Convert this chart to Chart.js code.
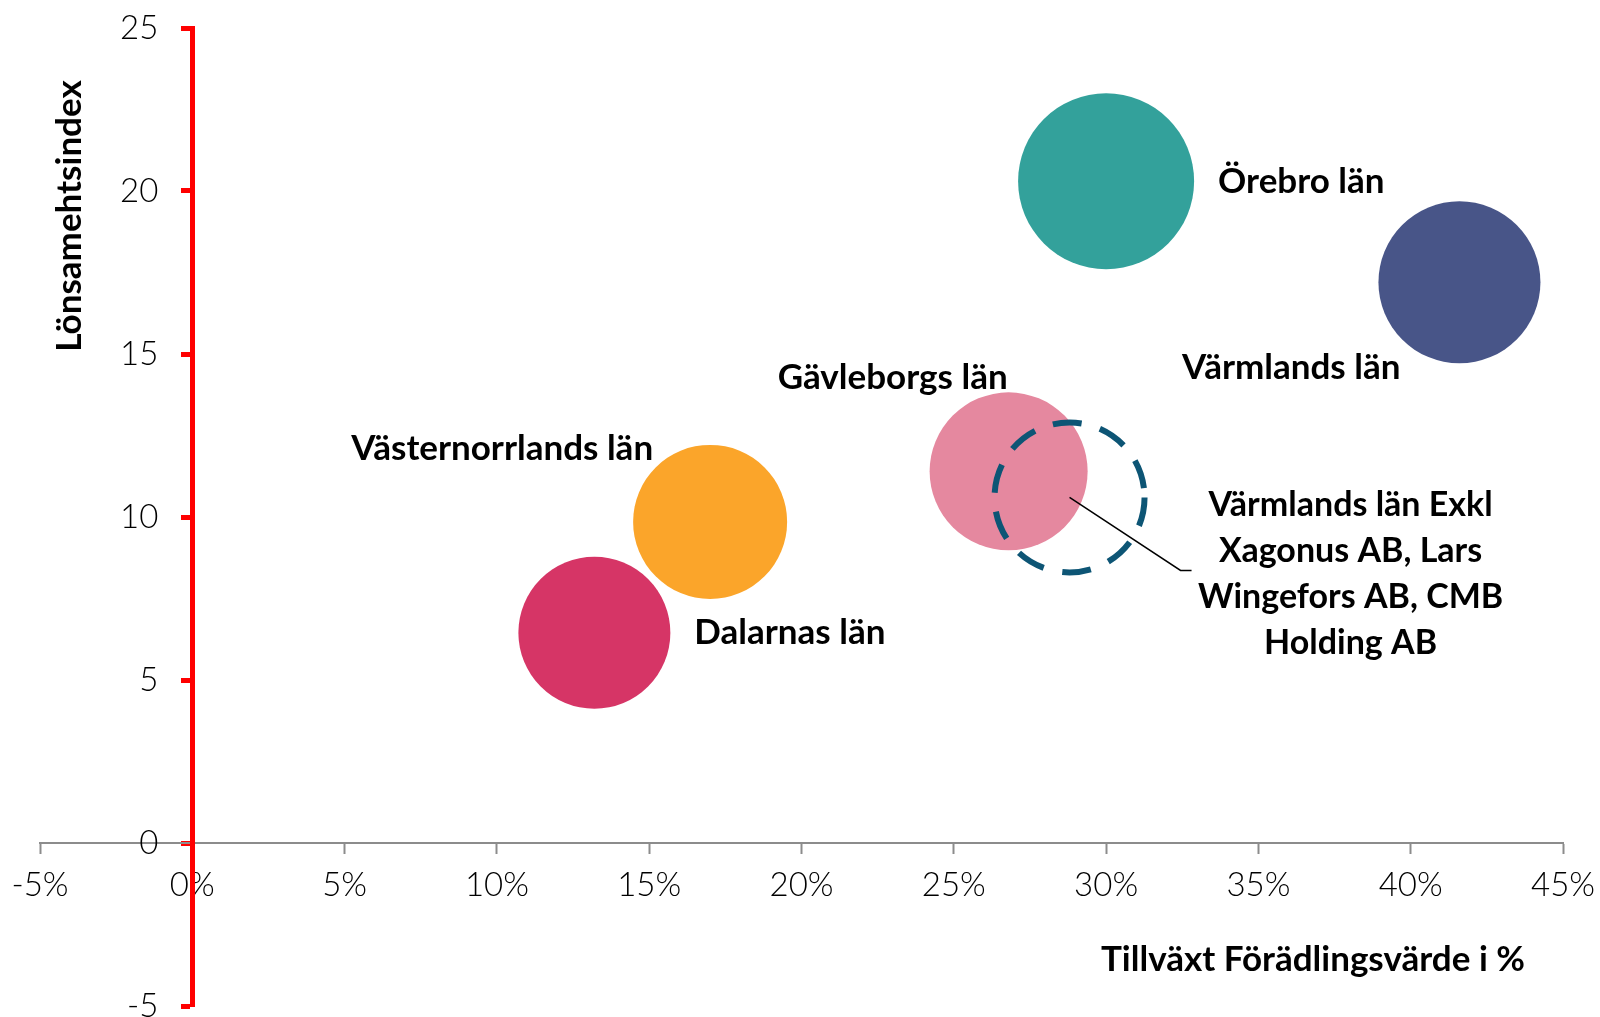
<!DOCTYPE html>
<html>
<head>
<meta charset="utf-8">
<script src="https://cdn.jsdelivr.net/npm/chart.js@4.4.1/dist/chart.umd.min.js"></script>
<style>
  html, body { margin: 0; padding: 0; background: #fff; }
  #wrap { width: 1600px; height: 1017px; position: relative; }
</style>
</head>
<body>
<div id="wrap"><canvas id="bubbleChart"></canvas></div>
<script>
// --- data ---
const regionNames = ['Örebro län', 'Värmlands län', 'Gävleborgs län', 'Västernorrlands län', 'Dalarnas län'];
const growthPct = [30.0, 41.6, 26.8, 17.0, 13.2];      // Tillväxt Förädlingsvärde i %
const profitIndex = [20.3, 17.2, 11.4, 9.85, 6.45];    // Lönsamehtsindex
const bubbleSize = [88, 81, 79, 77, 76];
const regionColors = ['#33a19b', '#485588', '#e5889f', '#fba52a', '#d63566'];

const exklLabel = ['Värmlands län Exkl', 'Xagonus AB, Lars', 'Wingefors AB, CMB', 'Holding AB'];
const exklGrowth = [28.8];
const exklProfit = [10.6];
const exklSize = [75];

const xTicks = [-5, 0, 5, 10, 15, 20, 25, 30, 35, 40, 45];
const yTicks = [-5, 0, 5, 10, 15, 20, 25];

const xTitle = 'Tillväxt Förädlingsvärde i %';
const yTitle = 'Lönsamehtsindex';

// label placement relative to each bubble (px)
const labelPlacement = [
    { dx: 112, dy: 0, align: 'left' },
    { dx: -59, dy: 85, align: 'right' },
    { dx: -1, dy: -94, align: 'right' },
    { dx: -57, dy: -73, align: 'right' },
    { dx: 100, dy: 0, align: 'left' }
];

const labelsPlugin = {
    id: 'bubbleLabels',
    beforeDraw(chart) {
        // y labels sit on the axis line when the axis is placed at x = 0, push them left
        const ys = chart.scales.y;
        ys.getLabelItems(chart.chartArea).forEach(item => {
            item.options.translation[0] -= 34;
        });
    },
    beforeDatasetDraw(chart, args) {
        // dashed outline for the "Exkl" bubble
        if (args.index === 0) {
            chart.ctx.save();
            chart.ctx.setLineDash([29, 19]);
        }
    },
    afterDatasetDraw(chart, args) {
        if (args.index === 0) chart.ctx.restore();
    },
    afterDraw(chart) {
        const { ctx, scales: { x, y } } = chart;
        ctx.save();
        ctx.fillStyle = '#000';
        ctx.textBaseline = 'middle';
        ctx.font = 'bold 35px Lato';

        regionNames.forEach((name, i) => {
            const p = labelPlacement[i];
            ctx.textAlign = p.align;
            ctx.fillText(name, x.getPixelForValue(growthPct[i]) + p.dx, y.getPixelForValue(profitIndex[i]) + p.dy);
        });

        // leader line + multi-line label
        const cx = x.getPixelForValue(exklGrowth[0]);
        const cy = y.getPixelForValue(exklProfit[0]);
        ctx.strokeStyle = '#000';
        ctx.lineWidth = 1.5;
        ctx.beginPath();
        ctx.moveTo(cx, cy);
        ctx.lineTo(cx + 111, cy + 73);
        ctx.lineTo(cx + 122, cy + 73);
        ctx.stroke();
        ctx.textAlign = 'center';
        ctx.font = 'bold 34px Lato';
        exklLabel.forEach((line, k) => ctx.fillText(line, cx + 281, cy + 8 + k * 46));

        // axis titles
        ctx.font = 'bold 35px Lato';
        ctx.fillText(xTitle, 1313, 960);
        ctx.translate(70, 216);
        ctx.rotate(-Math.PI / 2);
        ctx.fillText(yTitle, 0, 0);
        ctx.restore();
    }
};

const ctx = document.getElementById('bubbleChart').getContext('2d');

new Chart(ctx, {
    type: 'bubble',
    data: {
        datasets: [
            {
                label: exklLabel.join(' '),
                data: exklGrowth.map((v, i) => ({ x: v, y: exklProfit[i], r: exklSize[i] })),
                backgroundColor: 'rgba(0,0,0,0)',
                borderColor: '#0d5575',
                borderWidth: 6
            },
            {
                label: 'Län',
                data: growthPct.map((v, i) => ({ x: v, y: profitIndex[i], r: bubbleSize[i] })),
                backgroundColor: regionColors,
                borderWidth: 0
            }
        ]
    },
    options: {
        responsive: true,
        maintainAspectRatio: false,
        animation: false,
        events: [],
        layout: { autoPadding: false, padding: { left: 40, right: 37, top: 28, bottom: 11 } },
        plugins: {
            legend: { display: false },
            tooltip: { enabled: false }
        },
        scales: {
            x: {
                type: 'linear',
                min: xTicks[0],
                max: xTicks[xTicks.length - 1],
                position: { y: 0 },
                afterBuildTicks: s => { s.ticks = xTicks.map(v => ({ value: v })); },
                afterFit: s => { s.height = 0; s.paddingLeft = 0; s.paddingRight = 0; },
                grid: { drawOnChartArea: false, tickLength: 10, tickColor: '#8c8c8c', tickWidth: 2 },
                border: { color: '#8c8c8c', width: 2 },
                ticks: {
                    callback: v => v + '%',
                    color: '#000',
                    padding: 13,
                    maxRotation: 0,
                    autoSkip: false,
                    font: { family: 'Lato', size: 33, weight: 300 }
                }
            },
            y: {
                type: 'linear',
                min: yTicks[0],
                max: yTicks[yTicks.length - 1],
                position: { x: 0 },
                afterBuildTicks: s => { s.ticks = yTicks.map(v => ({ value: v })); },
                afterFit: s => { s.width = 0; s.paddingTop = 0; s.paddingBottom = 0; },
                grid: { drawOnChartArea: false, tickLength: 9, tickColor: '#ff0000', tickWidth: 5 },
                border: { color: '#ff0000', width: 5 },
                ticks: {
                    color: '#000',
                    padding: 25,
                    font: { family: 'Lato', size: 33, weight: 300 }
                }
            }
        }
    },
    plugins: [labelsPlugin]
});
</script>
</body>
</html>
